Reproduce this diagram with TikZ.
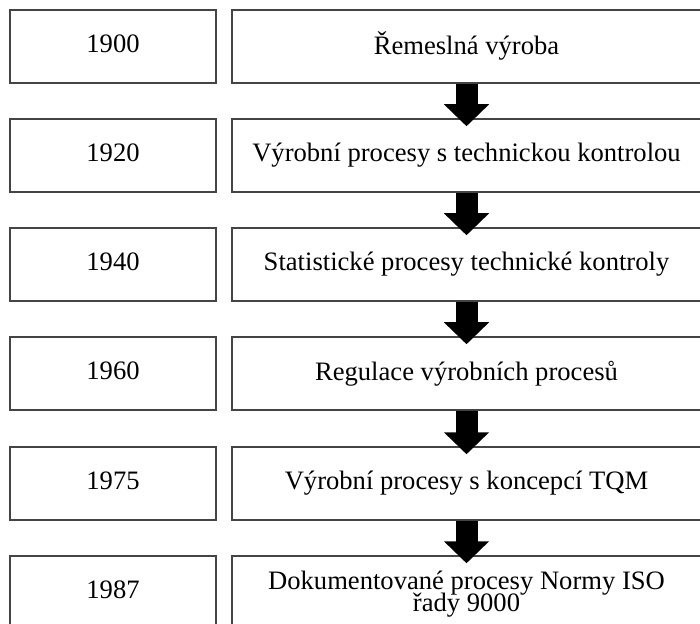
\documentclass[tikz,border=0pt]{standalone}
\usepackage{fontspec}
\setmainfont{Liberation Serif}
\usepackage{tikz}
\usetikzlibrary{arrows.meta}
\definecolor{ramecek}{HTML}{444444}
\newcommand{\pismoEtapa}{\fontsize{13.3}{11}\selectfont\lineskiplimit -10pt\relax}
\tikzset{
	rok/.style={
		draw=ramecek,
		line width=0.75pt,
		minimum width=103pt,
		minimum height=36.5pt,
		align=center,
		text depth=0.3em,
		font=\pismoEtapa
	},
	etapa/.style={
		rok,
		minimum width=234.5pt
	},
	sipka/.style={
		line width=11pt,
		-{Triangle[width=22pt,length=11pt]},
		black
	}
}

\begin{document}
\begin{tikzpicture}[x=0.5pt,y=-0.5pt]
	\useasboundingbox (0,0) rectangle (700,624);
	\node[rok] (r1) at (113,46.5) {1900};
	\node[etapa] (e1) at (466.5,46.5) {Řemeslná výroba};
	\node[rok] (r2) at (113,155.5) {1920};
	\node[etapa] (e2) at (466.5,155.5) {Výrobní procesy s technickou kontrolou};
	\node[rok] (r3) at (113,264.5) {1940};
	\node[etapa] (e3) at (466.5,264.5) {Statistické procesy technické kontroly};
	\node[rok] (r4) at (113,373.5) {1960};
	\node[etapa] (e4) at (466.5,373.5) {Regulace výrobních procesů};
	\node[rok] (r5) at (113,483.5) {1975};
	\node[etapa] (e5) at (466.5,483.5) {Výrobní procesy s koncepcí TQM};
	\node[rok] (r6) at (113,592.5) {1987};
	\node[etapa, text depth=0.1em] (e6) at (466.5,592.5) {Dokumentované procesy Normy ISO\\řady 9000};
	% sipky mezi etapami
	\draw[sipka] (e1.south) -- ([yshift=-4pt]e2.north);
	\draw[sipka] (e2.south) -- ([yshift=-4pt]e3.north);
	\draw[sipka] (e3.south) -- ([yshift=-4pt]e4.north);
	\draw[sipka] (e4.south) -- ([yshift=-4pt]e5.north);
	\draw[sipka] (e5.south) -- ([yshift=-4pt]e6.north);
\end{tikzpicture}
\end{document}
